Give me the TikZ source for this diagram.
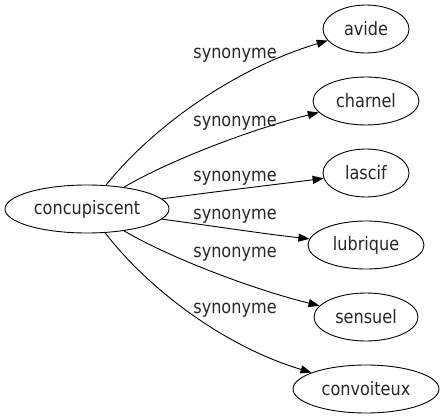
\documentclass[tikz,border=0pt]{standalone}
\usepackage{fontspec}
\setmainfont{DejaVu Sans}[FakeStretch=0.87]
\usetikzlibrary{shapes.geometric,arrows.meta}
\begin{document}
\begin{tikzpicture}[x=1pt,y=-1pt,
  word/.style={draw,ellipse,inner sep=0pt,minimum height=48pt,line width=0.9pt,font=\fontsize{18.5}{22}\selectfont,text=black!85},
  rel/.style={font=\fontsize{18.5}{22}\selectfont,inner sep=0pt,text=black!85},
  arr/.style={line width=0.9pt,-{Triangle[length=11pt,width=8pt]}}]
\useasboundingbox (0,0) rectangle (443,419);
\node[word,minimum width=164pt] (c) at (87,209) {concupiscent};
\node[word,minimum width=86pt] (a1) at (366,29) {avide};
\node[word,minimum width=106pt] (a2) at (366,101) {charnel};
\node[word,minimum width=86pt] (a3) at (366,173) {lascif};
\node[word,minimum width=116pt] (a4) at (366,245) {lubrique};
\node[word,minimum width=104pt] (a5) at (366,317) {sensuel};
\node[word,minimum width=146pt] (a6) at (366,389) {convoiteux};
\draw[arr] (c) .. controls (150,130) and (230,70) .. (a1);
\draw[arr] (c) .. controls (170,160) and (255,128) .. (a2);
\draw[arr] (c) .. controls (220,191) and (280,184) .. (a3);
\draw[arr] (c) .. controls (220,227) and (265,234) .. (a4);
\draw[arr] (c) .. controls (170,258) and (255,290) .. (a5);
\draw[arr] (c) .. controls (145,285) and (220,345) .. (a6);
\node[rel] (l1) at (235,55.5) {synonyme};
\node[rel] (l2) at (235,123) {synonyme};
\node[rel] (l3) at (235,178.5) {synonyme};
\node[rel] (l4) at (235,216.5) {synonyme};
\node[rel] (l5) at (235,254.5) {synonyme};
\node[rel] (l6) at (235,310) {synonyme};
\end{tikzpicture}
\end{document}
